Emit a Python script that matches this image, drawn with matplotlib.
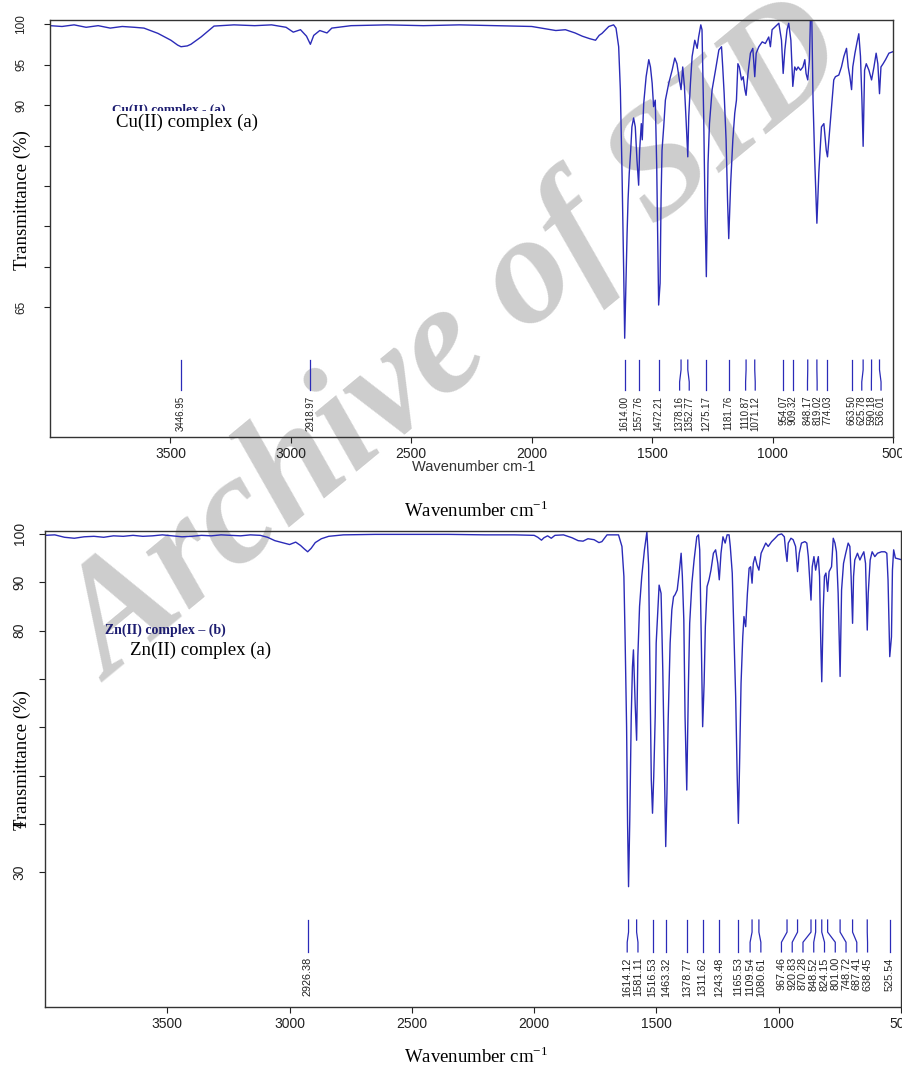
import numpy as np
import matplotlib
matplotlib.use('Agg')
import matplotlib.pyplot as plt

plt.rcParams['font.family'] = ['Liberation Sans', 'DejaVu Sans']

# Cu(II) complex spectrum: wavenumber (cm-1) and transmittance (%)
cu_wn = [4000, 3950, 3900, 3850, 3800, 3750, 3700, 3650, 3610, 3552, 3498, 3470, 3456, 3430, 3415,
         3373, 3319, 3236, 3150, 3080, 3020, 2990, 2960, 2935, 2919, 2905, 2880, 2850, 2830, 2750,
         2600, 2450, 2300, 2150, 2000, 1940, 1900, 1860, 1820, 1790, 1760, 1735, 1720, 1708, 1680,
         1660, 1650, 1639, 1632, 1625, 1618, 1614, 1608, 1604, 1600, 1595, 1589, 1584, 1577, 1570,
         1563, 1556, 1552, 1545, 1541, 1535, 1525, 1514, 1507, 1500, 1494, 1487, 1481, 1477, 1473,
         1467, 1463, 1459, 1452, 1445, 1431, 1417, 1406, 1397, 1387, 1380, 1373, 1366, 1359, 1352,
         1348, 1341, 1334, 1323, 1313, 1307, 1298, 1293, 1286, 1280, 1275, 1268, 1262, 1251, 1237,
         1223, 1212, 1207, 1201, 1193, 1187, 1182, 1174, 1165, 1157, 1150, 1144, 1138, 1129, 1122,
         1115, 1110, 1102, 1092, 1082, 1074, 1068, 1057, 1043, 1030, 1016, 1009, 1002, 988, 974,
         963, 956, 949, 940, 933, 924, 916, 908, 901, 894, 884, 874, 866, 861, 854,
         847, 843, 837, 832, 825, 816, 808, 797, 787, 777, 772, 764, 753, 746, 739,
         725, 714, 704, 693, 686, 679, 672, 667, 658, 649, 642, 635, 629, 624, 618,
         611, 600, 589, 579, 570, 563, 556, 550, 541, 531, 517, 499]
cu_t = [99.8, 99.7, 99.9, 99.6, 99.8, 99.5, 99.7, 99.6, 99.5, 98.85, 98.0, 97.4, 97.2, 97.3, 97.5,
        98.4, 99.75, 99.9, 99.8, 99.9, 99.6, 99.0, 99.3, 98.5, 97.5, 98.6, 99.2, 98.9, 99.5, 99.8,
        99.9, 99.8, 99.9, 99.8, 99.7, 99.4, 99.2, 99.3, 98.9, 98.5, 98.2, 98.0, 98.6, 98.85, 99.7,
        99.9, 99.5, 97.2, 91.9, 81.6, 69.2, 61.2, 69.2, 74.2, 78.3, 81.6, 84.4, 87.3, 88.4, 87.3,
        83.2, 80.1, 84.4, 87.7, 85.7, 90.2, 93.5, 95.6, 94.7, 92.7, 89.8, 90.6, 82.4, 73.7, 65.3,
        68.0, 78.3, 84.4, 87.3, 90.6, 92.7, 94.3, 95.8, 95.1, 93.1, 91.9, 94.7, 92.3, 88.1, 83.6,
        88.6, 92.7, 96.0, 98.0, 97.0, 98.4, 99.9, 99.3, 88.6, 76.2, 68.8, 82.8, 87.7, 91.9, 94.3,
        96.8, 97.2, 94.7, 91.4, 85.7, 78.3, 73.5, 80.3, 85.7, 89.0, 90.6, 95.1, 94.7, 93.1, 93.5,
        91.9, 91.2, 93.9, 96.4, 97.0, 93.5, 96.4, 97.2, 97.8, 97.6, 98.4, 97.2, 99.3, 99.7, 100.1,
        98.0, 93.9, 96.8, 99.3, 100.1, 98.0, 92.3, 94.7, 94.3, 94.7, 94.3, 94.7, 95.6, 93.9, 93.1,
        95.6, 100.5, 100.5, 90.6, 83.2, 75.4, 81.6, 87.3, 87.7, 84.4, 83.6, 86.5, 90.6, 93.1, 93.5,
        93.7, 94.7, 96.0, 97.0, 94.7, 93.5, 91.9, 94.7, 96.4, 97.8, 98.8, 96.0, 90.6, 84.9, 94.3,
        95.1, 94.3, 93.1, 94.7, 96.4, 95.1, 91.4, 94.7, 95.1, 95.6, 96.4, 96.6]
cu_peaks = [3446.95, 2918.97, 1614.00, 1557.76, 1472.21, 1378.16, 1352.77, 1275.17, 1181.76,
            1110.87, 1071.12, 954.07, 909.32, 848.17, 819.02, 774.03, 663.50, 625.78, 590.18, 536.01]

# Zn(II) complex spectrum
zn_wn = [4000, 3960, 3920, 3880, 3840, 3800, 3760, 3720, 3680, 3640, 3600, 3560, 3520, 3480, 3440,
         3400, 3360, 3320, 3280, 3240, 3200, 3160, 3120, 3090, 3060, 3030, 3000, 2975, 2955, 2940,
         2926, 2912, 2895, 2870, 2840, 2780, 2650, 2500, 2350, 2200, 2080, 2000, 1985, 1970, 1960,
         1945, 1930, 1915, 1880, 1845, 1820, 1800, 1780, 1755, 1735, 1723, 1702, 1662, 1655, 1641,
         1633, 1628, 1622, 1618, 1614, 1609, 1603, 1598, 1594, 1587, 1581, 1576, 1569, 1560, 1549,
         1539, 1532, 1528, 1521, 1516, 1511, 1505, 1501, 1494, 1489, 1481, 1474, 1468, 1462, 1457,
         1452, 1444, 1437, 1430, 1424, 1415, 1407, 1399, 1394, 1388, 1383, 1376, 1369, 1364, 1355,
         1346, 1335, 1328, 1323, 1317, 1311, 1305, 1300, 1293, 1285, 1277, 1267, 1258, 1249, 1243,
         1236, 1228, 1219, 1211, 1203, 1198, 1190, 1183, 1176, 1170, 1165, 1160, 1154, 1147, 1142,
         1135, 1128, 1121, 1115, 1109, 1104, 1097, 1089, 1081, 1072, 1063, 1053, 1043, 1029, 1015,
         1002, 988, 977, 972, 966, 961, 950, 941, 931, 923, 916, 907, 893, 885, 879,
         874, 868, 863, 856, 849, 844, 838, 833, 828, 824, 818, 813, 807, 800, 794,
         784, 777, 770, 764, 757, 749, 743, 735, 726, 716, 709, 704, 698, 694, 689,
         678, 668, 662, 652, 645, 638, 634, 626, 618, 607, 596, 580, 566, 558, 553,
         546, 539, 535, 530, 523, 494]
zn_t = [99.7, 99.8, 99.3, 99.1, 99.4, 99.5, 99.3, 99.6, 99.5, 99.7, 99.5, 99.6, 99.8, 99.6, 99.4,
        99.5, 99.7, 99.6, 99.8, 99.7, 99.6, 99.8, 99.7, 99.3, 98.6, 98.2, 97.8, 98.3, 97.6, 96.9,
        96.3, 97.0, 98.2, 99.0, 99.5, 99.8, 99.9, 99.9, 99.9, 99.8, 99.8, 99.7, 99.3, 98.7, 99.2,
        99.6, 99.1, 99.7, 99.8, 99.2, 98.6, 98.5, 99.0, 98.8, 98.2, 98.4, 99.8, 99.8, 99.8, 97.4,
        91.2, 78.1, 60.1, 40.1, 27.0, 40.8, 62.2, 72.5, 76.0, 64.9, 57.3, 74.6, 85.0, 91.2, 96.7,
        100.4, 93.6, 77.4, 49.1, 42.2, 49.8, 62.2, 77.4, 84.3, 89.4, 87.7, 71.8, 53.2, 35.3, 46.3,
        61.5, 77.4, 84.3, 87.0, 87.4, 88.4, 91.9, 96.0, 91.2, 82.2, 62.2, 47.0, 69.1, 81.5, 89.8,
        94.6, 99.4, 99.8, 96.7, 79.4, 60.1, 69.1, 80.8, 89.1, 90.5, 92.5, 96.0, 96.7, 93.9, 90.5,
        96.0, 99.4, 98.1, 99.8, 99.8, 97.4, 91.9, 78.7, 66.3, 50.4, 40.1, 52.5, 69.1, 78.7, 82.9,
        80.8, 87.7, 92.9, 93.2, 89.8, 93.9, 95.3, 93.6, 92.5, 96.0, 97.0, 98.1, 97.4, 98.4, 99.1,
        99.8, 100.0, 99.4, 96.7, 94.3, 98.1, 99.1, 98.8, 97.4, 92.2, 96.0, 98.1, 98.4, 98.1, 95.3,
        91.2, 86.3, 93.2, 95.3, 92.5, 93.9, 95.3, 91.2, 77.4, 69.4, 84.3, 91.2, 91.9, 88.1, 92.2,
        93.2, 99.1, 98.1, 96.3, 87.7, 70.5, 88.4, 93.9, 96.0, 98.1, 97.4, 91.2, 81.5, 91.2, 94.6,
        96.0, 94.6, 95.3, 96.3, 93.9, 80.1, 87.7, 94.6, 96.3, 95.3, 96.0, 96.3, 96.3, 96.0, 90.5,
        74.6, 78.7, 92.5, 96.7, 95.0, 94.6]
zn_peaks = [2926.38, 1614.12, 1581.11, 1516.53, 1463.32, 1378.77, 1311.62, 1243.48, 1165.53,
            1109.54, 1080.61, 967.46, 920.83, 870.28, 848.52, 824.15, 801.00, 748.72, 687.41,
            638.45, 525.54]

xticks = [3500, 3000, 2500, 2000, 1500, 1000, 500]
cu_yticks = [65, 70, 75, 80, 85, 90, 95, 100]
cu_ylabels = ['65', '', '', '', '', '90', '95', '100']
zn_yticks = [30, 40, 50, 60, 70, 80, 90, 100]
zn_ylabels = ['30', '4', '', '', '', '80', '90', '100']

BLUE = '#2b2bb8'
W, H = 903, 1072


def snap(wn, t, peak):
    # put the marker line on the nearest dip of the trace
    wn = np.asarray(wn, float)
    t = np.asarray(t, float)
    idx = [i for i in range(1, len(t) - 1) if t[i] < t[i - 1] and t[i] < t[i + 1]]
    best = min(idx, key=lambda i: abs(wn[i] - peak))
    return wn[best]


def spread(pos, gap):
    pos = list(pos)
    for _ in range(400):
        for i in range(len(pos) - 1):
            d = pos[i] - pos[i + 1]
            if d < gap:
                s = (gap - d) / 2
                pos[i] += s
                pos[i + 1] -= s
    return pos


def label_peaks(ax, wn, t, peaks, ys, ytext, gap, fs):
    lines = [snap(wn, t, p) for p in peaks]
    texts = spread(lines, gap)
    for p, x, tx in zip(peaks, lines, texts):
        ax.plot([x, x, tx, tx], ys, color=BLUE, lw=0.9)
        ax.text(tx, ytext, f'{p:.2f}', rotation=90, ha='center', va='top',
                fontsize=fs, color='#222222')


def style(ax, yticks, ylabels, ypad, yfs):
    ax.set_xticks(xticks)
    ax.set_xticklabels([str(v) for v in xticks])
    ax.set_yticks(yticks)
    ax.set_yticklabels(ylabels)
    ax.tick_params(direction='out', length=4.3, width=0.8, colors='#222222')
    ax.tick_params(axis='x', pad=3.0, labelsize=10)
    ax.tick_params(axis='y', pad=ypad, labelsize=yfs)
    for lab in ax.get_yticklabels():
        lab.set_rotation(90)
        lab.set_va('center')
        lab.set_ha('right')
    for s in ax.spines.values():
        s.set_linewidth(1.0)
        s.set_color('#333333')
    ax.patch.set_alpha(0)


fig = plt.figure(figsize=(W / 100, H / 100), dpi=100)

# watermark behind everything
fig.text(458 / W, 1 - 345 / H, 'Archive of SID', rotation=39.5, fontsize=112,
         family='Liberation Serif', weight='bold', style='italic', color='#cdcdcd',
         ha='center', va='center', zorder=-1)

ax1 = fig.add_axes([50 / W, 1 - 437 / H, 843 / W, 417 / H])
ax1.plot(cu_wn, cu_t, color=BLUE, lw=1.0)
ax1.set_xlim(4000, 500)
ax1.set_ylim(49.0, 100.5)
style(ax1, cu_yticks, cu_ylabels, 12, 8.5)
label_peaks(ax1, cu_wn, cu_t, cu_peaks, [58.5, 57.3, 55.8, 54.8], 54.1, 40, 7)

ax2 = fig.add_axes([45 / W, 1 - 1007 / H, 856 / W, 476 / H])
ax2.plot(zn_wn, zn_t, color=BLUE, lw=1.0)
ax2.set_xlim(4000, 500)
ax2.set_ylim(2.1, 100.6)
style(ax2, zn_yticks, zn_ylabels, 9, 10)
label_peaks(ax2, zn_wn, zn_t, zn_peaks, [20.1, 17.6, 15.5, 13.5], 12.4, 44, 7.8)

serif = 'Liberation Serif'
fig.text(474 / W, 1 - 467 / H, 'Wavenumber cm-1', fontsize=10.5, color='#333333',
         ha='center', va='center')
fig.text(476 / W, 1 - 511 / H, r'Wavenumber cm$^{\mathregular{-1}}$', fontsize=13.5,
         family=serif, ha='center', va='center')
fig.text(476 / W, 1 - 1057 / H, r'Wavenumber cm$^{\mathregular{-1}}$', fontsize=13.5,
         family=serif, ha='center', va='center')
fig.text(22 / W, 1 - 200 / H, 'Transmittance (%)', rotation=90, fontsize=13.5,
         family=serif, ha='center', va='center')
fig.text(22 / W, 1 - 760 / H, 'Transmittance (%)', rotation=90, fontsize=13.5,
         family=serif, ha='center', va='center')

fig.text(112 / W, 1 - 110 / H, 'Cu(II) complex - (a)', fontsize=9.5, weight='bold',
         family=serif, color='#1c1c70', ha='left', va='center', zorder=4)
fig.text(116 / W, 1 - 122 / H, 'Cu(II) complex (a)', fontsize=13.5, family=serif,
         ha='left', va='center', zorder=5,
         bbox=dict(boxstyle='square,pad=0.15', fc='white', ec='none'))
fig.text(105 / W, 1 - 630 / H, 'Zn(II) complex \u2013 (b)', fontsize=10, weight='bold',
         family=serif, color='#1c1c70', ha='left', va='center')
fig.text(130 / W, 1 - 650 / H, 'Zn(II) complex (a)', fontsize=13.5, family=serif,
         ha='left', va='center')

fig.savefig('out.png', dpi=100)
